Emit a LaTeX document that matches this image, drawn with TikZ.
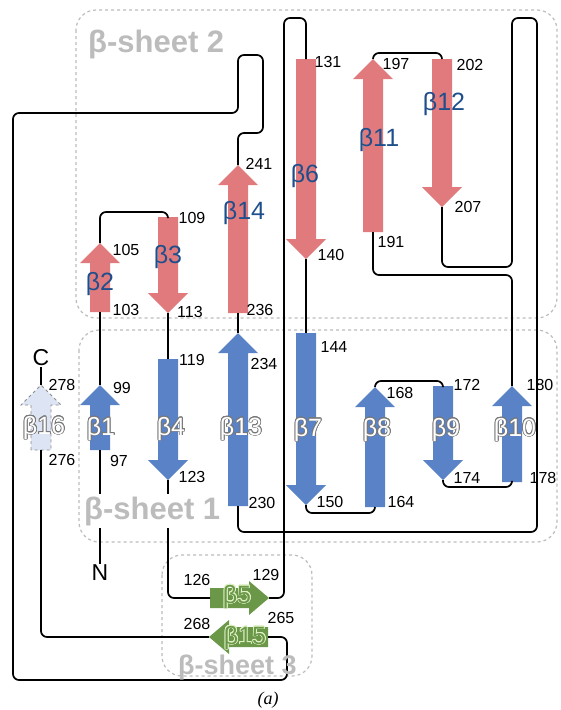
\documentclass[tikz,border=0pt]{standalone}
\usepackage{fontspec}
\setmainfont{Liberation Sans}
\newfontfamily\capfont{Liberation Serif}
\usepackage[copies]{contour}
\contourlength{0.7pt}
\contournumber{20}
\usetikzlibrary{calc}

\definecolor{sheetred}{RGB}{224,122,124}
\definecolor{sheetblue}{RGB}{90,130,198}
\definecolor{sheetgreen}{RGB}{106,152,72}
\definecolor{palebl}{RGB}{221,228,243}
\definecolor{labblue}{RGB}{31,78,140}
\definecolor{boxgray}{RGB}{188,188,188}
\definecolor{rimgray}{RGB}{120,120,120}
\definecolor{greenrim}{RGB}{222,240,196}

% outlined strand names
\newcommand\rimtext[3]{\contour{#1}{\textcolor{#2}{#3}}}
% strand arrow: [head half width]{name}{tail}{tip}{style}
\newcommand\strand[5][20]{%
  \coordinate (#2-tail) at #3;
  \coordinate (#2-tip) at #4;
  \coordinate (#2-neck) at ($(#2-tip)!20pt!(#2-tail)$);
  \path[#5] ($(#2-tail)!10pt!90:(#2-tip)$)
    -- ($(#2-neck)!10pt!-90:(#2-tail)$)
    -- ($(#2-neck)!#1pt!-90:(#2-tail)$)
    -- (#2-tip)
    -- ($(#2-neck)!#1pt!90:(#2-tail)$)
    -- ($(#2-neck)!10pt!90:(#2-tail)$)
    -- ($(#2-tail)!10pt!-90:(#2-tip)$) -- cycle;}

\begin{document}
\begin{tikzpicture}[x=1pt, y=-1pt,
  redst/.style={fill=sheetred},
  bluest/.style={fill=sheetblue},
  greenst/.style={fill=sheetgreen},
  palest/.style={fill=palebl, draw=black!45, dashed, line width=0.9pt},
  sheetbox/.style={draw=boxgray, dashed, line width=1.2pt, rounded corners=20pt},
  backbone/.style={line width=1.7pt, rounded corners=6pt},
  num/.style={font=\fontsize{16}{18}\selectfont, inner sep=0pt},
  redlab/.style={font=\fontsize{25}{28}\selectfont, text=labblue, inner sep=0pt},
  bluelab/.style={font=\fontsize{25}{28}\selectfont, inner sep=0pt},
  term/.style={font=\fontsize{23}{26}\selectfont, inner sep=1pt},
  sheetlab/.style={font=\bfseries\fontsize{31}{34}\selectfont, text=boxgray,
                   inner sep=0pt, anchor=base west}]
\useasboundingbox (0,0) rectangle (560,710);

% ---- sheet outlines ------------------------------------------------------
\draw[sheetbox] (76,10) rectangle (557,318);
\draw[sheetbox] (79,330) rectangle (557,542);
\draw[sheetbox] (162,555) rectangle (312,676);

% ---- strands -------------------------------------------------------------
\strand{b1}{(100,450)}{(100,385)}{bluest}
\strand{b2}{(100,312)}{(100,243)}{redst}
\strand{b3}{(168,217)}{(168,313)}{redst}
\strand{b4}{(168,359)}{(168,480)}{bluest}
\strand[17]{b5}{(210,598)}{(269,598)}{greenst}
\strand{b6}{(306,59)}{(306,259)}{redst}
\strand{b7}{(306,333)}{(306,505)}{bluest}
\strand{b8}{(375,507)}{(375,387)}{bluest}
\strand{b9}{(443,386)}{(443,480)}{bluest}
\strand{b10}{(512,482)}{(512,386)}{bluest}
\strand{b11}{(373,232)}{(373,59)}{redst}
\strand{b12}{(442,59)}{(442,207)}{redst}
\strand{b13}{(238,506)}{(238,333)}{bluest}
\strand{b14}{(238,313)}{(238,165)}{redst}
\strand[17]{b15}{(268,637)}{(209,637)}{greenst}
\strand{b16}{(41,450)}{(41,385)}{palest}

\node[term] (C) at (41,358) {C};
\node[term] (N) at (100,573) {N};

% ---- backbone ------------------------------------------------------------
\draw[backbone] (N) -- (b1-tail);
\draw[backbone] (b1-tip) -- (b2-tail);
\draw[backbone] (b2-tip) -- ++(0,-31) -| (b3-tail);
\draw[backbone] (b3-tip) -- (b4-tail);
\draw[backbone] (b4-tip) |- (b5-tail);
\draw[backbone] (b5-tip) -- ++(15,0) -- ++(0,-580) -| (b6-tail);
\draw[backbone] (b6-tip) -- (b7-tail);
\draw[backbone] (b7-tip) -- ++(0,8) -| (b8-tail);
\draw[backbone] (b8-tip) -- ++(0,-6) -| (b9-tail);
\draw[backbone] (b9-tip) -- ++(0,7) -| (b10-tail);
\draw[backbone] (b10-tip) -- ++(0,-111) -| (b11-tail);
\draw[backbone] (b11-tip) -- ++(0,-6) -| (b12-tail);
\draw[backbone] (b12-tip) -- ++(0,60) -- ++(70,0) -- ++(0,-249) -- ++(25,0)
  -- ++(0,514) -| (b13-tail);
\draw[backbone] (b13-tip) -- (b14-tail);
\draw[backbone] (b14-tip) -- ++(0,-32) -- ++(25,0) -- ++(0,-78) -- ++(-25,0)
  -- ++(0,58) -- ++(-225,0) -- ++(0,567) -- ++(274,0) |- (b15-tail);
\draw[backbone] (b15-tip) -| (b16-tail);
\draw[backbone] (b16-tip) -- (C);

% ---- residue numbers -----------------------------------------------------
\node[num] (r97) at (119,461) {97};
\node[num] (r99) at (122,388) {99};
\node[num] (r103) at (126,310) {103};
\node[num] (r105) at (126,250) {105};
\node[num] (r109) at (192,218) {109};
\node[num] (r113) at (190,312) {113};
\node[num] (r119) at (192,360) {119};
\node[num] (r123) at (192,477) {123};
\node[num] (r126) at (197,580) {126};
\node[num] (r129) at (266,575) {129};
\node[num] (r131) at (328,62) {131};
\node[num] (r140) at (331,255) {140};
\node[num] (r144) at (334,347) {144};
\node[num] (r150) at (330,502) {150};
\node[num] (r164) at (401,502) {164};
\node[num] (r168) at (400,393) {168};
\node[num] (r172) at (467,385) {172};
\node[num] (r174) at (467,478) {174};
\node[num] (r178) at (543,478) {178};
\node[num] (r180) at (540,385) {180};
\node[num] (r191) at (391,242) {191};
\node[num] (r197) at (396,64) {197};
\node[num] (r202) at (470,65) {202};
\node[num] (r207) at (468,207) {207};
\node[num] (r230) at (262,503) {230};
\node[num] (r234) at (264,364) {234};
\node[num] (r236) at (260,310) {236};
\node[num] (r241) at (259,164) {241};
\node[num] (r265) at (281,618) {265};
\node[num] (r268) at (197,624) {268};
\node[num] (r276) at (62,460) {276};
\node[num] (r278) at (62,385) {278};

% ---- strand names --------------------------------------------------------
\node[redlab] (l2) at (100,284) {β2};
\node[redlab] (l3) at (168,257) {β3};
\node[redlab] (l6) at (305,176) {β6};
\node[redlab] (l11) at (379,140) {β11};
\node[redlab] (l12) at (444,104) {β12};
\node[redlab] (l14) at (244,213) {β14};
\node[bluelab] (l1) at (101,429) {\rimtext{rimgray}{white}{β1}};
\node[bluelab] (l4) at (171,429) {\rimtext{rimgray}{white}{β4}};
\node[bluelab] (l7) at (308,430) {\rimtext{rimgray}{white}{β7}};
\node[bluelab] (l8) at (377,430) {\rimtext{rimgray}{white}{β8}};
\node[bluelab] (l9) at (446,430) {\rimtext{rimgray}{white}{β9}};
\node[bluelab] (l10) at (515,430) {\rimtext{rimgray}{white}{β10}};
\node[bluelab] (l13) at (241,429) {\rimtext{rimgray}{white}{β13}};
\node[bluelab] (l16) at (44,428) {\rimtext{rimgray}{white}{β16}};
\node[bluelab] (l5) at (237,597) {\rimtext{greenrim}{sheetgreen}{β5}};
\node[bluelab] (l15) at (245,638) {\rimtext{greenrim}{sheetgreen}{β15}};

% ---- sheet names ---------------------------------------------------------
\node[sheetlab] (s2) at (88,52) {β-sheet 2};
\node[sheetlab, fill=white, inner xsep=1pt, inner ysep=3pt] (s1) at (83,519) {β-sheet 1};
\node[sheetlab, font=\bfseries\fontsize{27}{30}\selectfont] (s3) at (178,674) {β-sheet 3};
\node[font=\capfont\itshape\fontsize{18}{20}\selectfont] (cap) at (268,700) {(a)};
\end{tikzpicture}
\end{document}
